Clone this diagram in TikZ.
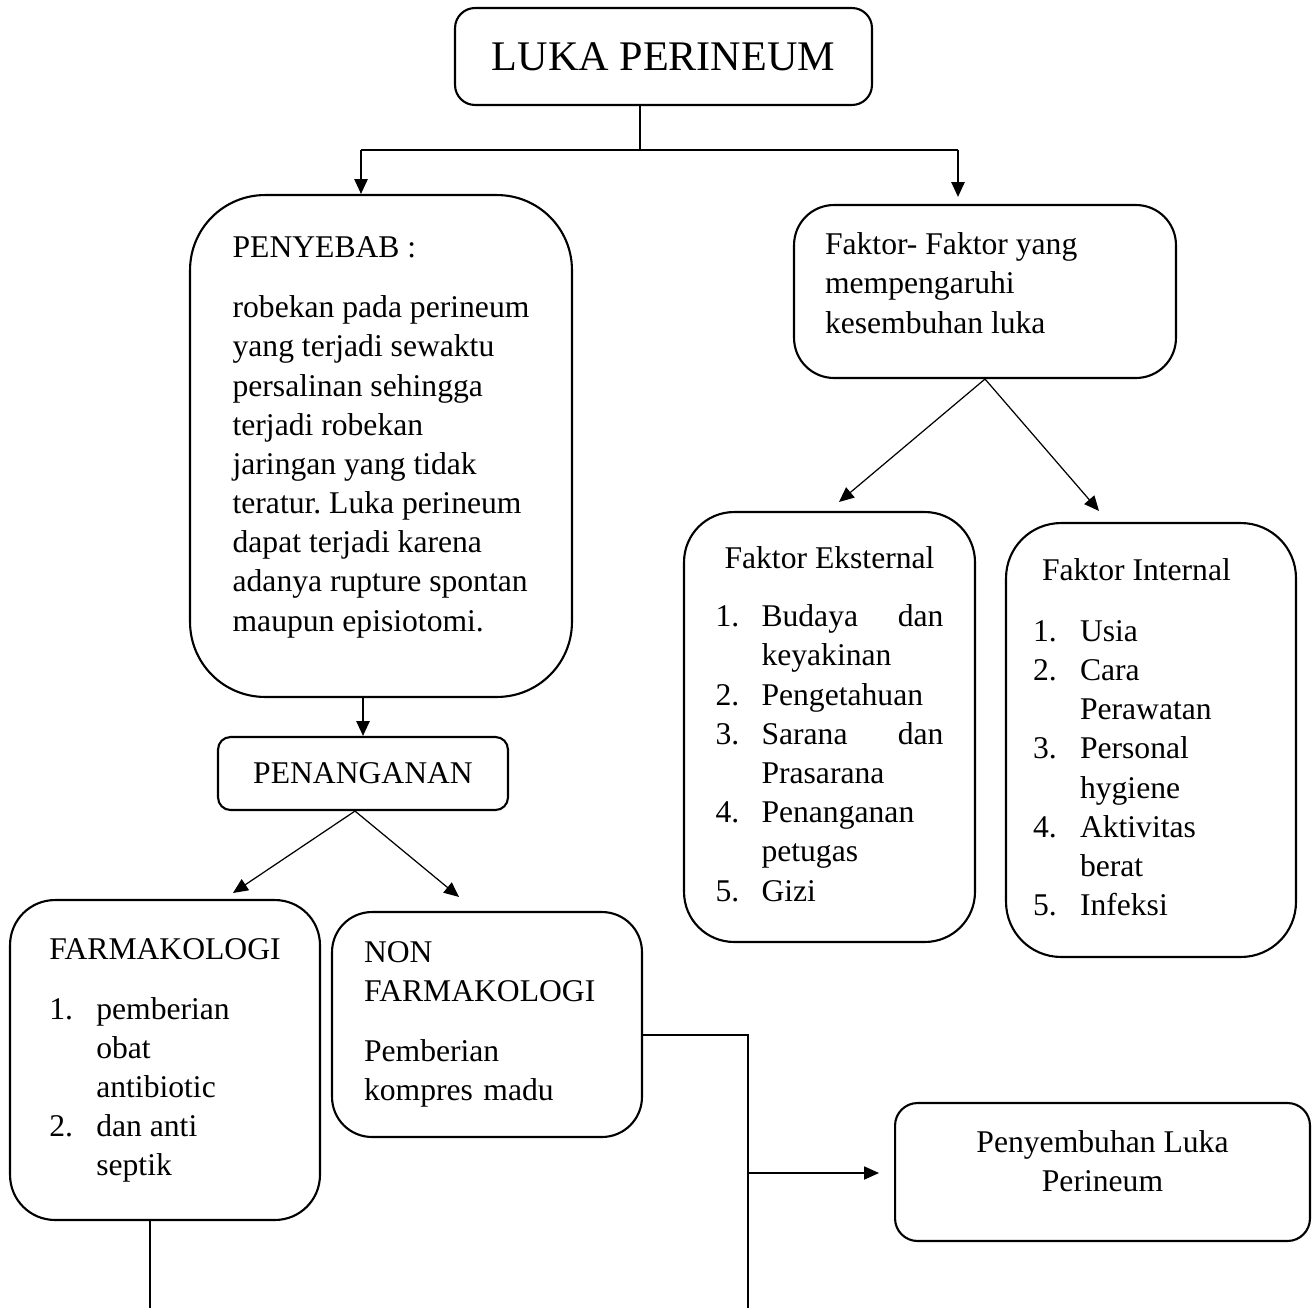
\documentclass[tikz,border=0pt]{standalone}
\usepackage{fontspec}
\setmainfont{Liberation Serif}
\usepackage{array}
\usetikzlibrary{arrows.meta}

\begin{document}
\begin{tikzpicture}[
  x=0.02cm, y=-0.02cm,
  every node/.style={font=\fontsize{18}{22.3}\selectfont\frenchspacing},
  kotak/.style={draw, line width=1.2pt, inner sep=0pt},
  garis/.style={line width=1.2pt},
  garistipis/.style={line width=0.7pt},
  panah/.style={-{Triangle[length=8.5pt,width=7.5pt]}}
]
\useasboundingbox (0,0) rectangle (1314,1308);

% kotak utama
\node[kotak, rounded corners=0.4cm, minimum width=8.34cm, minimum height=1.94cm,
  font=\fontsize{24}{28}\selectfont] (luka) at (663.5,56.5) {LUKA PERINEUM};

\node[kotak, rounded corners=1.5cm, minimum width=7.64cm, minimum height=10.04cm]
  (penyebab) at (381,446) {%
  \begin{tabular}[b]{@{}l@{}}
  PENYEBAB :\\[0.42cm]
  robekan pada perineum\\
  yang terjadi sewaktu\\
  persalinan sehingga\\
  terjadi robekan\\
  jaringan yang tidak\\
  teratur. Luka perineum\\
  dapat terjadi karena\\
  adanya rupture spontan\\
  maupun episiotomi.
  \end{tabular}\rule[-17.5pt]{0pt}{0pt}};

\node[kotak, rounded corners=0.8cm, minimum width=7.64cm, minimum height=3.46cm]
  (faktor) at (985,291.5) {%
  \begin{tabular}[b]{@{}p{6.4cm}@{}}
  Faktor- Faktor yang\\
  mempengaruhi\\
  kesembuhan luka
  \end{tabular}\rule[-12.8pt]{0pt}{0pt}};

\node[kotak, rounded corners=0.25cm, minimum width=5.8cm, minimum height=1.46cm]
  (penanganan) at (363,773.5) {PENANGANAN};

% faktor eksternal dan internal
\node[kotak, rounded corners=1cm, minimum width=5.82cm, minimum height=8.6cm]
  (eksternal) at (829.5,727) {%
  \begin{tabular}{@{}p{0.92cm}@{}p{3.64cm}@{}}
  \multicolumn{2}{@{}c@{}}{Faktor Eksternal}\\[0.38cm]
  1. & Budaya \hfill dan\\
     & keyakinan\\
  2. & Pengetahuan\\
  3. & Sarana \hfill dan\\
     & Prasarana\\
  4. & Penanganan\\
     & petugas\\
  5. & Gizi
  \end{tabular}};

\node[kotak, rounded corners=1.1cm, minimum width=5.8cm, minimum height=8.68cm]
  (internal) at (1151,740) {%
  \begin{tabular}{@{}p{0.94cm}@{}p{3.78cm}@{}}
  \multicolumn{2}{@{}l@{}}{\hspace{0.18cm}Faktor Internal}\\[0.44cm]
  1. & Usia\\
  2. & Cara\\
     & Perawatan\\
  3. & Personal\\
     & hygiene\\
  4. & Aktivitas\\
     & berat\\
  5. & Infeksi
  \end{tabular}};

% penanganan
\node[kotak, rounded corners=0.9cm, minimum width=6.2cm, minimum height=6.4cm]
  (farmako) at (165,1060) {%
  \begin{tabular}{@{}p{0.94cm}@{}p{3.42cm}@{}}
  \multicolumn{2}{@{}c@{}}{FARMAKOLOGI}\\[0.4cm]
  1. & pemberian\\
     & obat\\
     & antibiotic\\
  2. & dan anti\\
     & septik
  \end{tabular}};

\node[kotak, rounded corners=0.8cm, minimum width=6.2cm, minimum height=4.5cm,
  text width=4.92cm, align=left] (non) at (487,1024.5) {%
  NON\\
  FARMAKOLOGI\\[0.42cm]
  Pemberian\\
  kompres madu};

\node[kotak, rounded corners=0.45cm, minimum width=8.3cm, minimum height=2.76cm]
  (penyembuhan) at (1102.5,1172) {%
  \begin{tabular}[b]{@{}c@{}}
  Penyembuhan Luka\\
  Perineum
  \end{tabular}\rule[-16pt]{0pt}{0pt}};

% garis penghubung
\coordinate (cabang) at (640,150);
\coordinate (kiri) at (361,150);
\coordinate (kanan) at (958,150);
\draw[garis] (luka.south -| cabang) -- (cabang);
\draw[garis] (kiri) -- (kanan);
\draw[garis,panah] (kiri) -- (kiri |- penyebab.north);
\draw[garis,panah,shorten >=0.14cm] (kanan) -- (kanan |- faktor.north);

\draw[garis,panah] (penanganan.north |- penyebab.south) -- (penanganan.north);
\draw[garistipis,panah] ([xshift=-0.16cm]penanganan.south) -- ([xshift=1.36cm,yshift=0.12cm]farmako.north);
\draw[garistipis,panah] ([xshift=-0.16cm]penanganan.south) -- ([xshift=-0.56cm,yshift=0.28cm]non.north);

\draw[garistipis,panah] (faktor.south) -- ([xshift=0.19cm,yshift=0.18cm]eksternal.north);
\draw[garistipis,panah] (faktor.south) -- ([xshift=-1.04cm,yshift=0.22cm]internal.north);

\coordinate (turun) at (748,1308);
\coordinate (cabang2) at (748,1173);
\draw[garis] ([yshift=-0.21cm]non.east) -| (turun);
\draw[garistipis,panah,shorten >=0.3cm] (cabang2) -- (cabang2 -| penyembuhan.west);

\coordinate (turunkiri) at (150,1308);
\draw[garis] (farmako.south -| turunkiri) -- (turunkiri);

\end{tikzpicture}
\end{document}
